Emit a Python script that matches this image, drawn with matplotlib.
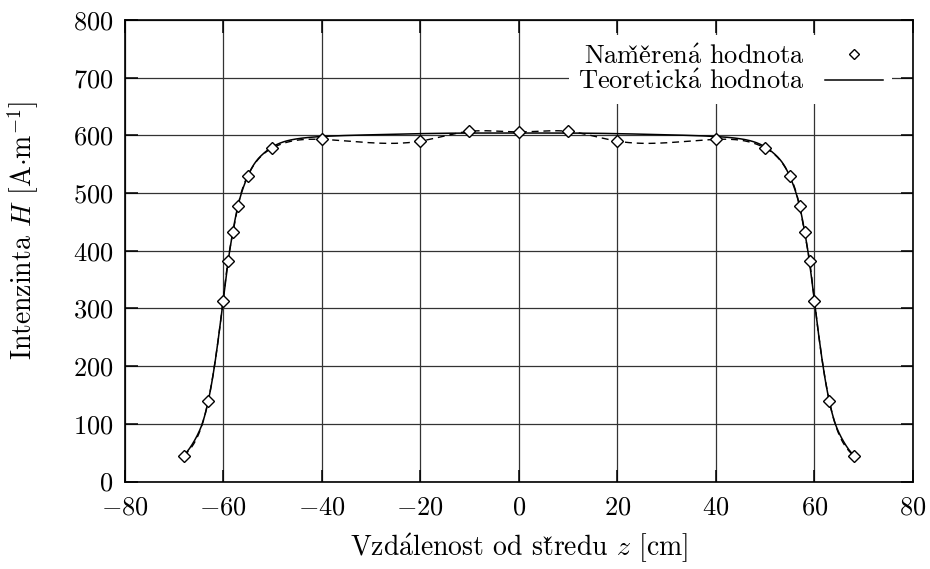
import numpy as np
import matplotlib
matplotlib.use("Agg")
import matplotlib.pyplot as plt
from matplotlib.lines import Line2D

# ---- data ----
z_meas = [-68, -63, -60, -59, -58, -57, -55, -50, -40, -20, -10, 0, 10, 20, 40, 50, 55, 57, 58, 59, 60, 63, 68]
H_meas = [44, 140, 313, 383, 432, 477, 530, 578, 593, 590, 607, 606, 607, 590, 593, 578, 530, 477, 432, 383, 313, 140, 44]

z_theo = [-68, -67, -66, -65, -64, -63, -62, -61, -60, -59, -58, -57, -56, -55, -54, -52, -50, -48, -45, -40, -30, -20,
          -10, 0, 10, 20, 30, 40, 45, 48, 50, 52, 54, 55, 56, 57, 58, 59, 60, 61, 62, 63, 64, 65, 66, 67, 68]
H_theo = [45, 55, 68, 84, 106, 140, 186, 245, 312, 380, 434, 477, 507, 529, 546, 567, 580, 588, 594, 598, 601, 603,
          604, 604, 604, 603, 601, 598, 594, 588, 580, 567, 546, 529, 507, 477, 434, 380, 312, 245, 186, 140, 106, 84,
          68, 55, 45]

x_ticks = [-80, -60, -40, -20, 0, 20, 40, 60, 80]
y_ticks = [0, 100, 200, 300, 400, 500, 600, 700, 800]

label_meas = r"Nam$\check{\mathrm{e}}\check{\mathrm{r}}$en$\acute{\mathrm{a}}$ hodnota"
label_theo = r"Teoretick$\acute{\mathrm{a}}$ hodnota"
xlabel = r"Vzd$\acute{\mathrm{a}}$lenost od st$\check{\mathrm{r}}$edu $z$ [cm]"
ylabel = r"Intenzinta $H$ [A$\cdot$m$^{-1}$]"


def natural_spline(x, y, n=800):
    x = np.asarray(x, float)
    y = np.asarray(y, float)
    m = len(x)
    h = np.diff(x)
    A = np.zeros((m, m))
    r = np.zeros(m)
    A[0, 0] = 1
    A[-1, -1] = 1
    for i in range(1, m - 1):
        A[i, i - 1] = h[i - 1]
        A[i, i] = 2 * (h[i - 1] + h[i])
        A[i, i + 1] = h[i]
        r[i] = 6 * ((y[i + 1] - y[i]) / h[i] - (y[i] - y[i - 1]) / h[i - 1])
    M = np.linalg.solve(A, r)
    xs = np.linspace(x[0], x[-1], n)
    idx = np.clip(np.searchsorted(x, xs) - 1, 0, m - 2)
    x0, x1 = x[idx], x[idx + 1]
    hh = x1 - x0
    a = (x1 - xs) / hh
    b = (xs - x0) / hh
    ys = a * y[idx] + b * y[idx + 1] + ((a ** 3 - a) * M[idx] + (b ** 3 - b) * M[idx + 1]) * hh ** 2 / 6
    return xs, ys


plt.rcParams['font.family'] = ['cmr10', 'DejaVu Serif']
plt.rcParams['mathtext.fontset'] = 'cm'
plt.rcParams['axes.formatter.use_mathtext'] = True
plt.rcParams['font.size'] = 20

fig = plt.figure(figsize=(9.30, 5.69), dpi=100)
ax = fig.add_axes([124.5 / 930, 1 - 481.5 / 569, (913 - 124.5) / 930, (481.5 - 20) / 569])

xs, ys = natural_spline(z_meas, H_meas)
ax.plot(xs, ys, color='black', lw=1.0, ls=(0, (5, 3.5)), zorder=3)
xt, yt = natural_spline(z_theo, H_theo)
ax.plot(xt, yt, color='black', lw=1.1, zorder=3)
ax.plot(z_meas, H_meas, ls='none', marker='D', ms=6, mfc='white', mec='black', mew=1.0, zorder=4)

ax.set_xlim(-80, 80)
ax.set_ylim(0, 800)
ax.set_xticks(x_ticks)
ax.set_yticks(y_ticks)
ax.grid(True, color='#333333', lw=0.9)
ax.set_axisbelow(True)
ax.tick_params(direction='in', length=9, width=1.1, top=True, right=True, labelsize=19)
ax.tick_params(axis='x', pad=10)
ax.tick_params(axis='y', pad=8)
for s in ax.spines.values():
    s.set_linewidth(1.2)

ax.set_xlabel(xlabel)
ax.set_ylabel(ylabel)
ax.xaxis.set_label_coords(0.5, (481.5 - 548) / 461.5, transform=ax.transAxes)
ax.yaxis.set_label_coords((23 - 124.5) / 788.5, (481.5 - 230) / 461.5, transform=ax.transAxes)
ax.xaxis.label.set_va('center')
ax.yaxis.label.set_va('center')

handles = [Line2D([], [], ls='none', marker='D', ms=5, mfc='white', mec='black', mew=1.0),
           Line2D([], [], color='black', lw=1.1)]
leg = ax.legend(handles, [label_meas, label_theo], loc='upper right', bbox_to_anchor=(892 / 930, 1 - 35 / 569),
                bbox_transform=fig.transFigure, markerfirst=False, frameon=True, fancybox=False, framealpha=1,
                edgecolor='white', facecolor='white', borderpad=0.35, handlelength=2.2, handletextpad=0.75,
                labelspacing=0.05, borderaxespad=0, fontsize=19)
leg.get_frame().set_linewidth(0)

fig.savefig('out.png', dpi=100)
